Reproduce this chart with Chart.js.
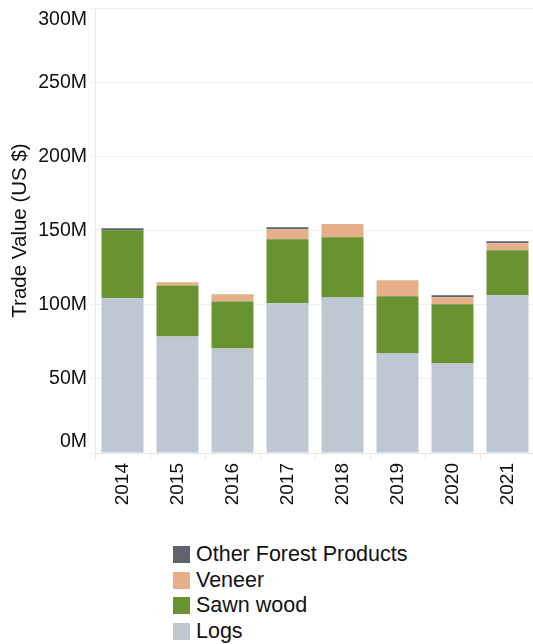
<!DOCTYPE html>
<html lang="en">
<head>
  <meta charset="UTF-8" />
  <title>Trade Value by Product</title>
  <script src="https://cdn.jsdelivr.net/npm/chart.js"></script>
  <style>
    html, body {
      margin: 0;
      padding: 0;
      background: #fff;
      overflow: hidden;
      font-family: 'Liberation Sans', Arial, sans-serif;
      color: #111;
    }
    #wrap {
      position: relative;
      width: 533px;
      height: 644px;
    }
    #chart {
      position: absolute;
      left: 0;
      top: 0;
    }
    #legend {
      position: absolute;
      left: 173px;
      top: 542px;
      font-size: 21.5px;
    }
    #legend .item {
      display: flex;
      align-items: center;
      height: 25.5px;
    }
    #legend .box {
      width: 17px;
      height: 17px;
      margin-right: 6px;
    }
  </style>
</head>
<body>
  <div id="wrap">
    <canvas id="chart" width="535" height="515"></canvas>
    <div id="legend"></div>
  </div>

  <script>
    // values in millions of US $
    const years = ['2014', '2015', '2016', '2017', '2018', '2019', '2020', '2021'];
    const logs = [104.3, 78.6, 70.5, 100.9, 104.9, 67.1, 60.3, 106.3];
    const sawnWood = [45.9, 34.4, 31.7, 43.2, 40.6, 38.5, 39.9, 30.4];
    const veneer = [0, 2.1, 4.8, 6.8, 8.8, 10.8, 4.8, 4.7];
    const otherProducts = [1.4, 0, 0, 1.3, 0, 0, 1.3, 1.4];
    const yTicks = [0, 50, 100, 150, 200, 250, 300];

    const FONT = "'Liberation Sans', Arial, sans-serif";

    const ctx = document.getElementById('chart').getContext('2d');
    const chart = new Chart(ctx, {
      type: 'bar',
      data: {
        labels: years,
        datasets: [
          { label: 'Logs', data: logs, backgroundColor: '#bec8d2' },
          { label: 'Sawn wood', data: sawnWood, backgroundColor: '#699231' },
          { label: 'Veneer', data: veneer, backgroundColor: '#e5b089' },
          { label: 'Other Forest Products', data: otherProducts, backgroundColor: '#5e646e' }
        ]
      },
      options: {
        responsive: false,
        animation: false,
        datasets: {
          bar: { barPercentage: 0.764, categoryPercentage: 1 }
        },
        layout: { padding: 0 },
        plugins: {
          legend: { display: false },
          tooltip: { enabled: false }
        },
        scales: {
          x: {
            stacked: true,
            grid: {
              offset: true,
              drawOnChartArea: false,
              drawTicks: true,
              tickLength: 7,
              color: '#e4e4e4'
            },
            border: { display: true, color: '#e4e4e4' },
            ticks: {
              minRotation: 90,
              maxRotation: 90,
              padding: 3,
              color: '#111',
              font: { family: FONT, size: 19 }
            },
            afterFit(scale) {
              scale.height = 62;
            }
          },
          y: {
            stacked: true,
            min: 0,
            max: 300,
            afterBuildTicks(scale) {
              scale.ticks = yTicks.map(v => ({ value: v }));
            },
            grid: {
              color: '#efefef',
              drawTicks: true,
              tickLength: 5
            },
            border: { display: true, color: '#e8e8e8' },
            ticks: {
              padding: 3,
              color: '#111',
              font: { family: FONT, size: 19.5 },
              callback(v) {
                // edge labels sit inside the plot like in the source chart
                if (v === 300) return ['', v + 'M'];
                if (v === 0) return [v + 'M', ''];
                return v + 'M';
              }
            },
            title: {
              display: true,
              text: 'Trade Value (US $)',
              color: '#111',
              font: { family: FONT, size: 20.5 },
              padding: { top: 8, bottom: 4 }
            },
            afterFit(scale) {
              scale.width = 95;
              scale.paddingTop = 8;
              scale.paddingBottom = 0;
            }
          }
        }
      }
    });

    // legend, top to bottom in reverse stack order
    const legend = document.getElementById('legend');
    chart.data.datasets.slice().reverse().forEach(ds => {
      const item = document.createElement('div');
      item.className = 'item';
      item.innerHTML = `<span class="box" style="background:${ds.backgroundColor}"></span><span>${ds.label}</span>`;
      legend.appendChild(item);
    });
  </script>
</body>
</html>
